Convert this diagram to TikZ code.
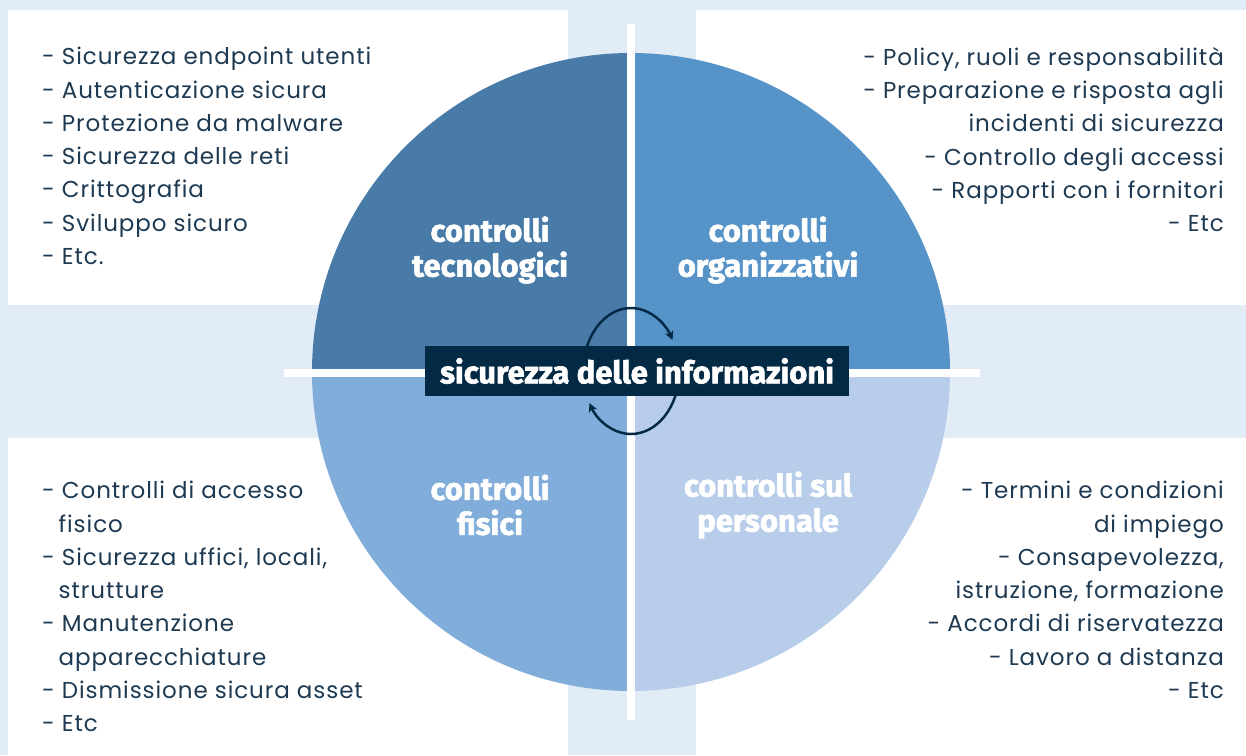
\documentclass[tikz,border=0pt]{standalone}
\usepackage{fontspec}
\setmainfont{Poppins}[LetterSpace=4]
\newfontfamily\headfont{Fira Sans}[BoldFeatures={FakeBold=2}]
\usetikzlibrary{arrows.meta}

\definecolor{bgblue}{HTML}{E1ECF7}
\definecolor{techblue}{HTML}{487BA8}
\definecolor{orgblue}{HTML}{5593C8}
\definecolor{physblue}{HTML}{81ADDA}
\definecolor{persblue}{HTML}{B7CDE9}
\definecolor{navy}{HTML}{032A45}
\definecolor{listtext}{HTML}{1E3A52}

\tikzset{
	quadlabel/.style={text=white, align=center, inner sep=0pt, font=\headfont\bfseries\fontsize{31}{35}\selectfont},
	itemlist/.style={text=listtext, inner sep=0pt, font=\fontsize{23}{33.3}\selectfont},
	cycle arrow/.style={navy, line width=2.5, -{Stealth[length=9,width=9]}}
}

\begin{document}
\begin{tikzpicture}[x=1pt, y=1pt]
		\useasboundingbox (0,0) rectangle (1246,-755);
		\fill[bgblue] (0,0) rectangle (1246,-755);
		
		\fill[white] (8,-10) rectangle (568,-305);
		\fill[white] (696,-10) rectangle (1246,-305);
		\fill[white] (8,-438) rectangle (568,-755);
		\fill[white] (696,-438) rectangle (1246,-755);
		
		\coordinate (C) at (631,-372);
		\fill[techblue] (C) -- ++(-319,0) arc[start angle=180, end angle=90, radius=319] -- cycle;
		\fill[orgblue] (C) -- ++(0,319) arc[start angle=90, end angle=0, radius=319] -- cycle;
		\fill[persblue] (C) -- ++(319,0) arc[start angle=0, end angle=-90, radius=319] -- cycle;
		\fill[physblue] (C) -- ++(0,-319) arc[start angle=-90, end angle=-180, radius=319] -- cycle;
		
		\coordinate (crossN) at (631,-24);
		\coordinate (crossS) at (631,-720);
		\coordinate (crossW) at (284,-373);
		\coordinate (crossE) at (980,-373);
		\draw[white, line width=8] (crossN) -- (crossS);
		\draw[white, line width=8] (crossW) -- (crossE);
		
		\draw[cycle arrow] ([shift={(165:48 and 64)}]C) arc[start angle=165, end angle=30, x radius=48, y radius=64];
		\draw[cycle arrow] ([shift={(-12:48 and 62)}]C) arc[start angle=-12, end angle=-150, x radius=48, y radius=62];
		
		\node[fill=navy, text=white, minimum width=424, minimum height=50, inner sep=0pt, font=\headfont\bfseries\fontsize{31}{31}\selectfont] (core) at (637,-371) {sicurezza delle informazioni};
		
		\node[quadlabel] (tech) at (490,-250) {controlli\\tecnologici};
		\node[quadlabel] (org) at (768,-250) {controlli\\organizzativi};
		\node[quadlabel] (phys) at (490,-505) {controlli\\fisici};
		\node[quadlabel] (pers) at (768,-505) {controlli sul\\personale};
		
		\node[itemlist, anchor=north west, align=left] (techlist) at (42,-47) {- Sicurezza endpoint utenti\\- Autenticazione sicura\\- Protezione da malware\\- Sicurezza delle reti\\- Crittografia\\- Sviluppo sicuro\\- Etc.};
		\node[itemlist, anchor=north east, align=right] (orglist) at (1224,-47) {- Policy, ruoli e responsabilità\\- Preparazione e risposta agli\\incidenti di sicurezza\\- Controllo degli accessi\\- Rapporti con i fornitori\\- Etc};
		\node[itemlist, anchor=north west, align=left] (physlist) at (42,-481) {- Controlli di accesso\\\hphantom{-\,}fisico\\- Sicurezza uffici, locali,\\\hphantom{-\,}strutture\\- Manutenzione\\\hphantom{-\,}apparecchiature\\- Dismissione sicura asset\\- Etc};
		\node[itemlist, anchor=north east, align=right] (perslist) at (1224,-481) {- Termini e condizioni\\di impiego\\- Consapevolezza,\\istruzione, formazione\\- Accordi di riservatezza\\- Lavoro a distanza\\- Etc};
	\end{tikzpicture}
\end{document}
